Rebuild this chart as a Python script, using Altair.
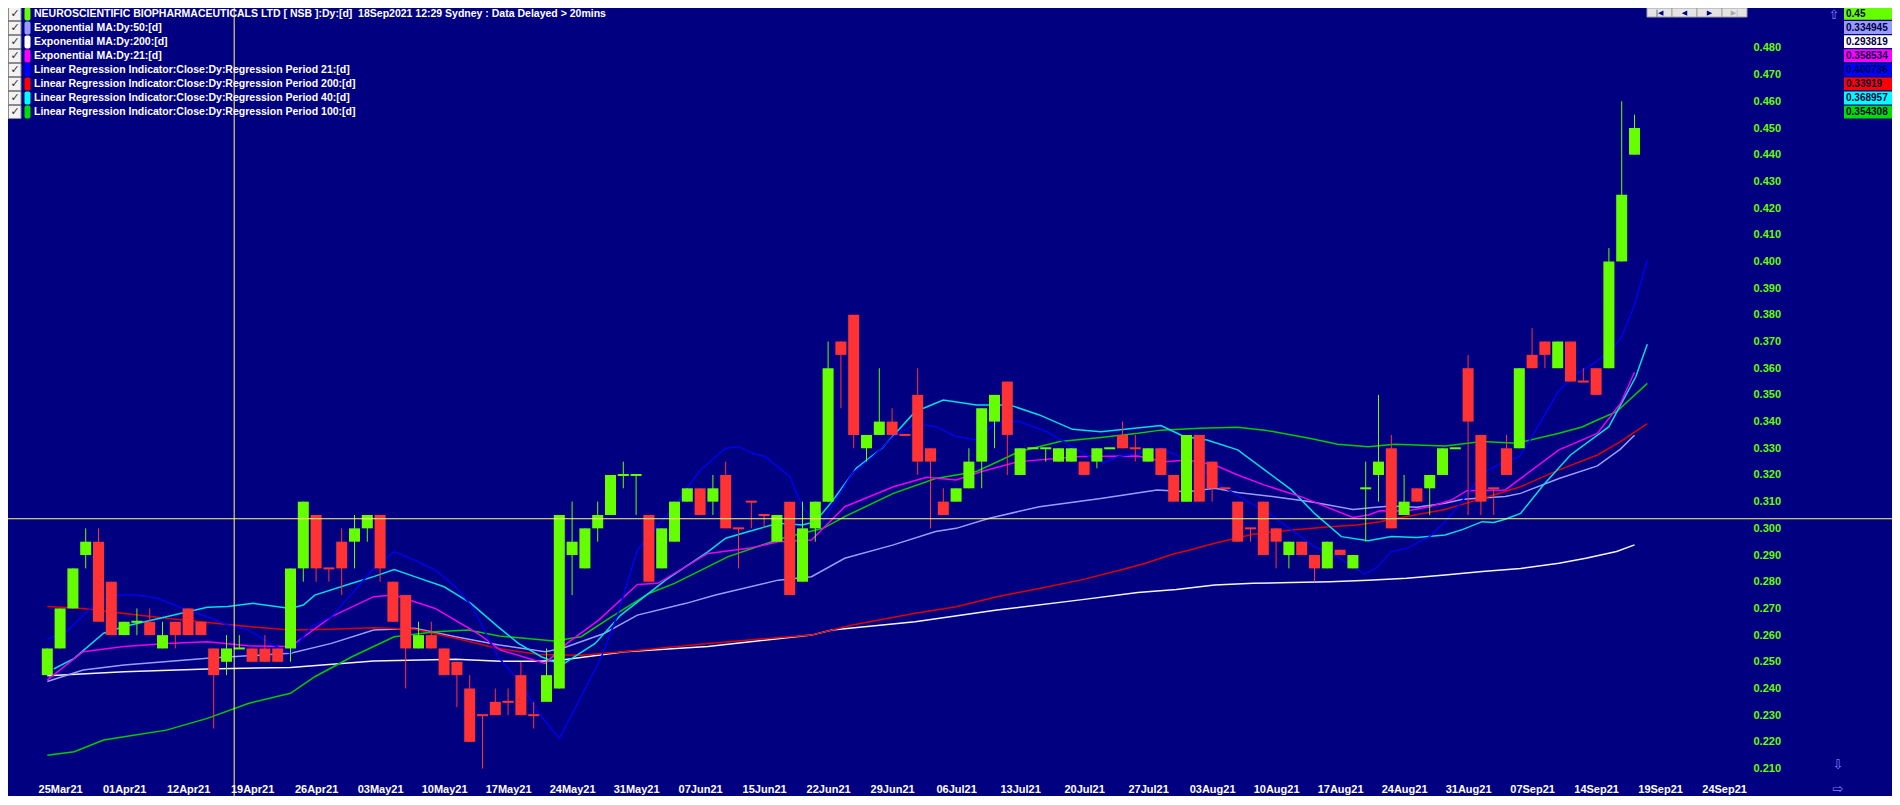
import altair as alt
import pandas as pd

# ---------------- candles: index 0 = 24Mar21 ... 124 = 17Sep21 ----------------
opens = [0.245, 0.255, 0.27, 0.29, 0.295, 0.28, 0.26, 0.265, 0.265, 0.255,
         0.265, 0.27, 0.265, 0.255, 0.25, 0.255, 0.255, 0.255, 0.255, 0.255,
         0.285, 0.305, 0.285, 0.295, 0.295, 0.30, 0.305, 0.28, 0.275, 0.255,
         0.26, 0.255, 0.25, 0.24, 0.23, 0.235, 0.235, 0.245, 0.23, 0.235,
         0.24, 0.29, 0.285, 0.30, 0.305, 0.32, 0.32, 0.305, 0.285, 0.295,
         0.31, 0.315, 0.31, 0.32, 0.30, 0.31, 0.305, 0.295, 0.31, 0.28,
         0.30, 0.31, 0.37, 0.38, 0.33, 0.335, 0.34, 0.335, 0.35, 0.33,
         0.31, 0.31, 0.315, 0.325, 0.34, 0.355, 0.32, 0.33, 0.33, 0.325,
         0.325, 0.325, 0.325, 0.33, 0.335, 0.33, 0.325, 0.33, 0.32, 0.31,
         0.335, 0.325, 0.315, 0.31, 0.30, 0.31, 0.30, 0.29, 0.295, 0.29,
         0.285, 0.292, 0.285, 0.315, 0.32, 0.33, 0.305, 0.315, 0.315, 0.32,
         0.33, 0.36, 0.335, 0.315, 0.33, 0.33, 0.365, 0.37, 0.36, 0.37,
         0.355, 0.36, 0.36, 0.40, 0.44]
highs = [0.255, 0.27, 0.285, 0.30, 0.30, 0.28, 0.265, 0.27, 0.27, 0.265,
         0.265, 0.27, 0.265, 0.255, 0.26, 0.26, 0.255, 0.26, 0.255, 0.285,
         0.31, 0.305, 0.285, 0.30, 0.305, 0.305, 0.305, 0.28, 0.275, 0.265,
         0.265, 0.255, 0.25, 0.245, 0.23, 0.24, 0.24, 0.25, 0.235, 0.255,
         0.305, 0.31, 0.30, 0.31, 0.32, 0.325, 0.32, 0.305, 0.30, 0.31,
         0.315, 0.315, 0.32, 0.325, 0.30, 0.31, 0.305, 0.305, 0.31, 0.31,
         0.31, 0.37, 0.37, 0.38, 0.335, 0.36, 0.345, 0.335, 0.36, 0.33,
         0.315, 0.315, 0.33, 0.345, 0.35, 0.355, 0.33, 0.33, 0.33, 0.33,
         0.33, 0.325, 0.33, 0.33, 0.34, 0.335, 0.33, 0.33, 0.32, 0.335,
         0.335, 0.325, 0.315, 0.31, 0.30, 0.31, 0.30, 0.295, 0.295, 0.29,
         0.295, 0.292, 0.29, 0.325, 0.35, 0.335, 0.32, 0.315, 0.32, 0.33,
         0.33, 0.365, 0.335, 0.315, 0.335, 0.36, 0.375, 0.37, 0.37, 0.37,
         0.36, 0.36, 0.405, 0.46, 0.455]
lows = [0.245, 0.255, 0.27, 0.285, 0.265, 0.26, 0.26, 0.26, 0.26, 0.255,
        0.255, 0.26, 0.26, 0.225, 0.245, 0.255, 0.25, 0.25, 0.25, 0.25,
        0.28, 0.28, 0.28, 0.275, 0.285, 0.295, 0.28, 0.265, 0.24, 0.255,
        0.255, 0.245, 0.233, 0.22, 0.21, 0.23, 0.23, 0.23, 0.225, 0.235,
        0.24, 0.275, 0.285, 0.295, 0.305, 0.315, 0.305, 0.28, 0.285, 0.295,
        0.31, 0.305, 0.305, 0.30, 0.285, 0.30, 0.30, 0.295, 0.275, 0.28,
        0.295, 0.31, 0.345, 0.33, 0.325, 0.335, 0.335, 0.335, 0.32, 0.30,
        0.305, 0.31, 0.315, 0.315, 0.33, 0.32, 0.32, 0.33, 0.325, 0.325,
        0.325, 0.32, 0.3225, 0.33, 0.33, 0.325, 0.325, 0.32, 0.31, 0.31,
        0.31, 0.31, 0.315, 0.295, 0.295, 0.29, 0.285, 0.285, 0.29, 0.28,
        0.285, 0.29, 0.285, 0.295, 0.31, 0.30, 0.305, 0.31, 0.305, 0.32,
        0.33, 0.305, 0.305, 0.305, 0.32, 0.33, 0.36, 0.36, 0.36, 0.355,
        0.355, 0.35, 0.36, 0.40, 0.44]
closes = [0.255, 0.27, 0.285, 0.295, 0.265, 0.26, 0.265, 0.265, 0.26, 0.26,
          0.26, 0.26, 0.26, 0.245, 0.255, 0.255, 0.25, 0.25, 0.25, 0.285,
          0.31, 0.285, 0.285, 0.285, 0.30, 0.305, 0.285, 0.265, 0.255, 0.26,
          0.255, 0.245, 0.245, 0.22, 0.23, 0.23, 0.235, 0.23, 0.23, 0.245,
          0.305, 0.295, 0.30, 0.305, 0.32, 0.32, 0.32, 0.28, 0.30, 0.31,
          0.315, 0.305, 0.315, 0.30, 0.30, 0.31, 0.305, 0.305, 0.275, 0.30,
          0.31, 0.36, 0.365, 0.335, 0.335, 0.34, 0.335, 0.335, 0.325, 0.325,
          0.305, 0.315, 0.325, 0.345, 0.35, 0.335, 0.33, 0.33, 0.33, 0.33,
          0.33, 0.32, 0.33, 0.33, 0.33, 0.33, 0.33, 0.32, 0.31, 0.335,
          0.31, 0.315, 0.315, 0.295, 0.30, 0.29, 0.295, 0.295, 0.29, 0.285,
          0.295, 0.29, 0.29, 0.315, 0.325, 0.30, 0.31, 0.31, 0.32, 0.33,
          0.33, 0.34, 0.31, 0.315, 0.32, 0.36, 0.36, 0.365, 0.37, 0.355,
          0.355, 0.35, 0.40, 0.425, 0.45]
green_doji = [7, 15, 45, 46, 77, 78, 83, 103, 110]

# ---------------- indicator lines (candle index, value) ----------------
ema200 = [(0, 0.2448), (6, 0.2463), (12.5, 0.2473), (19, 0.2479), (25.5, 0.2503), (31.9, 0.2510),
          (35.4, 0.2502), (38.4, 0.2502), (40.2, 0.2507), (45.1, 0.2538), (51.6, 0.2557), (59.7, 0.2600),
          (61.3, 0.2619), (67.8, 0.2650), (74.2, 0.2694), (80.7, 0.2732), (85.2, 0.2760), (88.2, 0.2771),
          (91.2, 0.2788), (94.2, 0.2794), (97.2, 0.2797), (100.2, 0.2800), (103.2, 0.2806), (106.2, 0.2813),
          (109.2, 0.2825), (112.1, 0.2838), (115.1, 0.2850), (118.1, 0.2869), (120.2, 0.2888),
          (122.6, 0.2913), (124, 0.2938)]
ema50 = [(0, 0.2426), (2.8, 0.2469), (6, 0.2488), (12.5, 0.2513), (19, 0.2532), (22.2, 0.2569),
         (25.5, 0.2619), (28.7, 0.2626), (31.9, 0.2594), (35.3, 0.2563), (38.9, 0.2538), (40.2, 0.2550),
         (43.5, 0.2606), (46.1, 0.2675), (49.9, 0.2719), (52.2, 0.2750), (57.1, 0.2806), (59.7, 0.2819),
         (62.3, 0.2888), (66.1, 0.2938), (69.4, 0.2988), (71, 0.3000), (73.6, 0.3038), (77.5, 0.3081),
         (82.3, 0.3112), (86.7, 0.3144), (89.1, 0.3137), (91.2, 0.3150), (93, 0.3134), (95.7, 0.3119),
         (98.7, 0.3100), (102, 0.3071), (103.8, 0.3079), (105, 0.3084), (107, 0.3079), (109.2, 0.3094),
         (110.6, 0.3109), (113.9, 0.3119), (115.1, 0.3131), (118.1, 0.3187), (121.1, 0.3234),
         (122.9, 0.3297), (124, 0.3349)]
ema21 = [(0, 0.2432), (2.8, 0.2538), (6, 0.2557), (9.3, 0.2569), (12.5, 0.2575), (15.7, 0.2560),
         (19, 0.2557), (22.2, 0.2669), (25.5, 0.2744), (27.1, 0.2750), (30.3, 0.2700), (33.6, 0.2607),
         (35.4, 0.2544), (38.9, 0.2494), (40.6, 0.2569), (43.1, 0.2657), (46.1, 0.2790), (47.7, 0.2794),
         (51.6, 0.2906), (54.8, 0.2925), (57.1, 0.2950), (59.7, 0.2956), (62.3, 0.3081), (66.1, 0.3156),
         (68.7, 0.3191), (71, 0.3181), (73, 0.3213), (75.9, 0.3250), (80.7, 0.3269), (85.2, 0.3271),
         (87.3, 0.3250), (89.1, 0.3256), (91.2, 0.3237), (93, 0.3200), (95.1, 0.3162), (98.1, 0.3116),
         (100.2, 0.3075), (102, 0.3041), (103.2, 0.3050), (104.1, 0.3066), (106.2, 0.3065), (108, 0.3081),
         (109.7, 0.3106), (110.9, 0.3141), (113.9, 0.3144), (116, 0.3219), (118.1, 0.3294),
         (121.1, 0.3356), (122.9, 0.3468), (124, 0.3585)]
linreg21 = [(0, 0.2584), (1.5, 0.2613), (3.8, 0.2719), (5.4, 0.2750), (7, 0.2750), (8.6, 0.2738),
            (10.9, 0.2694), (12.5, 0.2669), (14.1, 0.2638), (15.7, 0.2619), (17.4, 0.2569), (19, 0.2532),
            (20.6, 0.2632), (22.2, 0.2669), (23.8, 0.2756), (25.5, 0.2850), (27.1, 0.2913), (28.7, 0.2881),
            (30.3, 0.2844), (31.9, 0.2781), (33.2, 0.2706), (35.2, 0.2519), (36.8, 0.2432), (38.4, 0.2307),
            (40, 0.2213), (41.7, 0.2369), (43.3, 0.2519), (44.5, 0.2669), (46.1, 0.2919), (49, 0.3081),
            (50.9, 0.3213), (53, 0.3300), (54, 0.3306), (55.1, 0.3281), (56.1, 0.3269), (58, 0.3194),
            (59, 0.3081), (60.3, 0.3006), (61.3, 0.3081), (62.9, 0.3206), (64.5, 0.3269), (66.1, 0.3344),
            (67.8, 0.3393), (69.4, 0.3381), (71, 0.3344), (72.6, 0.3331), (74.2, 0.3400), (75.9, 0.3400),
            (78.1, 0.3362), (81.4, 0.3269), (82.5, 0.3245), (83.7, 0.3269), (85.2, 0.3281), (87, 0.3300),
            (88.2, 0.3275), (90, 0.3231), (91.8, 0.3156), (93.6, 0.3106), (95.4, 0.3056), (97.2, 0.2994),
            (99, 0.2931), (100.8, 0.2893), (102.9, 0.2829), (103.8, 0.2850), (105, 0.2913), (106.2, 0.2925),
            (108, 0.2969), (109.2, 0.3025), (110.6, 0.3106), (112.1, 0.3206), (113.6, 0.3244), (115, 0.3269),
            (116, 0.3344), (118.1, 0.3518), (119.5, 0.3580), (121, 0.3624), (122.4, 0.3680), (123, 0.3718),
            (124, 0.3837), (125, 0.4007)]
linreg40 = [(0.5, 0.2473), (2.1, 0.2513), (4.4, 0.2607), (6, 0.2632), (9.3, 0.2669), (12.5, 0.2704),
            (14.1, 0.2707), (16.1, 0.2719), (19, 0.2700), (20, 0.2713), (20.9, 0.2750), (23.8, 0.2794),
            (25.5, 0.2819), (27.1, 0.2846), (28.7, 0.2819), (31, 0.2781), (33.1, 0.2719), (35.2, 0.2632),
            (36.8, 0.2569), (38.6, 0.2519), (40.2, 0.2488), (42.8, 0.2569), (44.8, 0.2675), (48.3, 0.2806),
            (51.6, 0.2912), (53, 0.2963), (54.8, 0.2988), (57.1, 0.3019), (59, 0.3013), (60, 0.3025),
            (61.3, 0.3100), (63.2, 0.3225), (65.2, 0.3300), (67.8, 0.3437), (70, 0.3481), (72.6, 0.3462),
            (75.2, 0.3462), (77.5, 0.3425), (80.1, 0.3371), (82.3, 0.3362), (87, 0.3385), (88.8, 0.3344),
            (90.6, 0.3331), (93, 0.3294), (95.1, 0.3219), (97.2, 0.3144), (99, 0.3056), (101.1, 0.2969),
            (103.2, 0.2954), (105, 0.2969), (107, 0.2966), (109.2, 0.2975), (110.6, 0.2996), (112.1, 0.3025),
            (113, 0.3022), (113.9, 0.3034), (115.1, 0.3056), (116.9, 0.3163), (119, 0.3275), (122, 0.3381),
            (124.1, 0.3568), (125, 0.3690)]
linreg200 = [(0, 0.2707), (2.8, 0.2700), (6, 0.2681), (9.3, 0.2663), (12.5, 0.2647), (15.7, 0.2632),
             (19, 0.2619), (22.2, 0.2622), (25.5, 0.2628), (28.7, 0.2622), (31.9, 0.2588), (35.2, 0.2550),
             (38.4, 0.2527), (41.7, 0.2525), (45, 0.2538), (51.6, 0.2569), (58, 0.2594), (59.7, 0.2600),
             (62.9, 0.2638), (67.8, 0.2682), (71, 0.2706), (74.2, 0.2744), (77.5, 0.2775), (80.7, 0.2806),
             (84, 0.2846), (85.8, 0.2869), (87.9, 0.2903), (89.1, 0.2917), (91.2, 0.2944), (94.2, 0.2978),
             (97.2, 0.2994), (100.2, 0.3006), (102.3, 0.3013), (104.1, 0.3025), (106.2, 0.3044),
             (109.2, 0.3071), (112.1, 0.3112), (115.1, 0.3156), (116.9, 0.3194), (118.1, 0.3219),
             (121.1, 0.3275), (122.9, 0.3325), (125, 0.3392)]
linreg100 = [(0, 0.2150), (2.1, 0.2163), (4.4, 0.2207), (6, 0.2219), (9.3, 0.2244), (12.5, 0.2288),
             (15.7, 0.2344), (19, 0.2382), (20.9, 0.2444), (23.8, 0.2519), (27.1, 0.2594), (30.3, 0.2613),
             (32.9, 0.2619), (35.3, 0.2597), (39.6, 0.2578), (41.7, 0.2594), (44.1, 0.2669), (47, 0.2756),
             (49, 0.2794), (53.2, 0.2894), (57.4, 0.2963), (60.6, 0.3000), (62.3, 0.3044), (66.1, 0.3131),
             (69.4, 0.3187), (72.6, 0.3213), (75.9, 0.3287), (79.1, 0.3325), (82.3, 0.3340), (85.2, 0.3356),
             (87, 0.3368), (90, 0.3375), (93, 0.3379), (95.1, 0.3368), (98.7, 0.3337), (100.8, 0.3315),
             (103.2, 0.3306), (105.3, 0.3315), (109.2, 0.3309), (112.1, 0.3325), (114.8, 0.3319),
             (118.1, 0.3356), (119.9, 0.3380), (121.1, 0.3406), (122.6, 0.3437), (125, 0.3543)]

# crosshair position (candle index, price)
cross_idx = [14.6]
cross_price = [0.3036]

# ---------------- axis labels ----------------
date_labels = ['25Mar21', '01Apr21', '12Apr21', '19Apr21', '26Apr21', '03May21', '10May21',
               '17May21', '24May21', '31May21', '07Jun21', '15Jun21', '22Jun21', '29Jun21',
               '06Jul21', '13Jul21', '20Jul21', '27Jul21', '03Aug21', '10Aug21', '17Aug21',
               '24Aug21', '31Aug21', '07Sep21', '14Sep21', '19Sep21', '24Sep21']
date_positions = [1 + 5 * k for k in range(len(date_labels))]
price_ticks = [0.21, 0.22, 0.23, 0.24, 0.25, 0.26, 0.27, 0.28, 0.29, 0.30, 0.31, 0.32, 0.33, 0.34,
               0.35, 0.36, 0.37, 0.38, 0.39, 0.40, 0.41, 0.42, 0.43, 0.44, 0.45, 0.46, 0.47, 0.48]

legend_labels = [
    "NEUROSCIENTIFIC BIOPHARMACEUTICALS LTD [ NSB ]:Dy:[d]\u00a0 18Sep2021 12:29 Sydney : Data Delayed > 20mins",
    "Exponential MA:Dy:50:[d]",
    "Exponential MA:Dy:200:[d]",
    "Exponential MA:Dy:21:[d]",
    "Linear Regression Indicator:Close:Dy:Regression Period 21:[d]",
    "Linear Regression Indicator:Close:Dy:Regression Period 200:[d]",
    "Linear Regression Indicator:Close:Dy:Regression Period 40:[d]",
    "Linear Regression Indicator:Close:Dy:Regression Period 100:[d]",
]
value_texts = ["0.45", "0.334945", "0.293819", "0.358534", "0.400736", "0.33919", "0.368957", "0.354308"]

# ---------------- styles ----------------
BG = '#000080'
UP, DOWN = '#66ff00', '#ff3333'
CROSS = '#ffff66'
legend_colors = ['#66ff00', '#9999ff', '#ffffff', '#ff00ff', '#0000ff', '#ff0000', '#00ffff', '#00dd00']
series_def = [('EMA200', ema200, '#f4f4f4'), ('EMA50', ema50, '#9c9cff'), ('LR200', linreg200, '#e00000'),
              ('LR100', linreg100, '#00cc00'), ('LR40', linreg40, '#00e0e0'), ('EMA21', ema21, '#ee00ee'),
              ('LR21', linreg21, '#0000ee')]

W, H = 1884, 788

# ---------------- data frames ----------------
crow = []
for i in range(len(opens)):
    o, c = opens[i], closes[i]
    up = c > o or (c == o and i in green_doji)
    crow.append(dict(idx=i, open=o, high=highs[i], low=lows[i], close=c,
                     x0=i - 0.43, x1=i + 0.43, doji=bool(c == o), col=UP if up else DOWN))
cdf = pd.DataFrame(crow)

ldf = pd.DataFrame([dict(series=name, idx=p[0], value=p[1], col=col)
                    for name, pts, col in series_def for p in pts])
xdf = pd.DataFrame({'ci': cross_idx, 'cv': cross_price})

xs = alt.Scale(domain=[-3.0703, 144.117], nice=False, zero=False)
ys = alt.Scale(domain=[0.199719, 0.494961], nice=False, zero=False)

label_js = "[" + ",".join("'%s'" % s for s in date_labels) + "][(datum.value-1)/5]"
x_axis = alt.Axis(values=date_positions, labelExpr=label_js, orient='bottom', offset=-7,
                  ticks=False, tickSize=0, domain=False, grid=False, labelPadding=0,
                  labelBaseline='middle', labelAlign='center', labelColor='white',
                  labelFont='Liberation Sans', labelFontSize=11, labelFontWeight='bold',
                  labelOverlap=False, labelFlush=False, title=None)
y_axis = alt.Axis(values=price_ticks, format='.3f', orient='right', offset=-139,
                  ticks=False, tickSize=0, domain=False, grid=False, labelPadding=0,
                  labelAlign='left', labelBaseline='middle', labelColor='#66ff00',
                  labelFont='Liberation Sans', labelFontSize=11, labelFontWeight='bold',
                  labelOverlap=False, labelFlush=False, title=None)


def X(f):
    return alt.X(f, scale=xs, axis=x_axis)


def Y(f):
    return alt.Y(f, scale=ys, axis=y_axis)


COL = alt.Color('col:N', scale=None)

lines = alt.Chart(ldf).mark_line(strokeWidth=1.5).encode(
    x=X('idx:Q'), y=Y('value:Q'), color=COL, detail='series:N', order='idx:Q')
wicks = alt.Chart(cdf).mark_rule(strokeWidth=1).encode(
    x=X('idx:Q'), y=Y('low:Q'), y2='high:Q', color=COL)
bodies = alt.Chart(cdf).transform_filter('!datum.doji').mark_rect().encode(
    x=X('x0:Q'), x2='x1:Q', y=Y('open:Q'), y2='close:Q', color=COL)
dojis = alt.Chart(cdf).transform_filter('datum.doji').mark_rule(strokeWidth=2).encode(
    x=X('x0:Q'), x2='x1:Q', y=Y('open:Q'), color=COL)
hline = alt.Chart(xdf).mark_rule(color=CROSS, strokeWidth=1).encode(y=Y('cv:Q'))
vline = alt.Chart(xdf).mark_rule(color=CROSS, strokeWidth=1).encode(x=X('ci:Q'))

main = alt.layer(lines, wicks, bodies, dojis, hline, vline)

# ---------------- overlays (legend, value boxes, nav) ----------------
LEG_FONT = dict(font='Liberation Sans', fontSize=10.5, fontWeight='bold')
VAL_FONT = dict(font='Liberation Sans', fontSize=10, fontWeight='bold')
leg = pd.DataFrame({'row': list(range(len(legend_labels))), 'label': legend_labels, 'sw': legend_colors})
legb = (alt.Chart(leg)
        .transform_calculate(py='6 + 14*datum.row')
        .transform_calculate(py0='datum.py - 6.5')
        .transform_calculate(py1='datum.py + 6.5'))
PY = alt.Y('py:Q', scale=None)
chk_box = legb.mark_rect(fill='#f2f2f2', stroke='#8a8a8a', strokeWidth=1).encode(
    x=alt.value(0.5), x2=alt.value(13), y=alt.Y('py0:Q', scale=None), y2='py1:Q')
chk_mark = legb.mark_text(text='\u2713', font='DejaVu Sans', fontSize=11, fontWeight='bold',
                          color='#303030', align='center', baseline='middle').encode(
    x=alt.value(7), y=PY)
swatch = legb.mark_rect(cornerRadius=2).encode(
    x=alt.value(16.5), x2=alt.value(22.5), y=alt.Y('py0:Q', scale=None), y2='py1:Q',
    color=alt.Color('sw:N', scale=None))
leg_text = legb.mark_text(align='left', baseline='middle', color='white', **LEG_FONT).encode(
    x=alt.value(26), y=PY, text='label:N')

vals = pd.DataFrame({'row': list(range(len(value_texts))), 'txt': value_texts, 'bg': legend_colors})
valb = (alt.Chart(vals)
        .transform_calculate(vy0='-1 + 14.1*datum.row')
        .transform_calculate(vy1='datum.vy0 + 12.8')
        .transform_calculate(vym='datum.vy0 + 6.6'))
val_box = valb.mark_rect().encode(
    x=alt.value(1836), x2=alt.value(1884), y=alt.Y('vy0:Q', scale=None), y2='vy1:Q',
    color=alt.Color('bg:N', scale=None))
val_txt = valb.mark_text(align='left', baseline='middle', color='#000040', **VAL_FONT).encode(
    x=alt.value(1838), y=alt.Y('vym:Q', scale=None), text='txt:N')

nav = pd.DataFrame({'k': [0, 1, 2, 3], 'g': ['|\u25c0', '\u25c0', '\u25b6', '\u25b6|'],
                    'gc': ['#000080', '#000080', '#000080', '#a8a8a8']})
navb = (alt.Chart(nav)
        .transform_calculate(nx0='1639 + 25*datum.k')
        .transform_calculate(nx1='datum.nx0 + 25')
        .transform_calculate(nxm='datum.nx0 + 12.5'))
nav_box = navb.mark_rect(fill='#e4e4e4', stroke='#a0a0a0', strokeWidth=1).encode(
    x=alt.X('nx0:Q', scale=None), x2='nx1:Q', y=alt.value(0), y2=alt.value(9))
nav_txt = navb.mark_text(font='DejaVu Sans', fontSize=7, align='center', baseline='middle').encode(
    x=alt.X('nxm:Q', scale=None), y=alt.value(4.5), text='g:N', color=alt.Color('gc:N', scale=None))

arrows = pd.DataFrame({'g': ['\u21e7', '\u21e9', '\u21e8'], 'ax': [1826, 1830, 1830], 'ay': [7, 757, 781]})
arrow_txt = alt.Chart(arrows).mark_text(font='DejaVu Sans', fontSize=13, color='#8080ff',
                                        align='center', baseline='middle').encode(
    x=alt.X('ax:Q', scale=None), y=alt.Y('ay:Q', scale=None), text='g:N')

overlay = alt.layer(chk_box, chk_mark, swatch, leg_text, val_box, val_txt, nav_box, nav_txt, arrow_txt)

chart = (alt.layer(main, overlay)
         .resolve_scale(x='independent', y='independent')
         .properties(width=W, height=H, autosize=alt.AutoSizeParams(type='none'), padding=0,
                     background=BG)
         .configure_view(stroke=None, fill=BG))

chart.save("out.html", embed_options={"renderer": "svg", "actions": False})
